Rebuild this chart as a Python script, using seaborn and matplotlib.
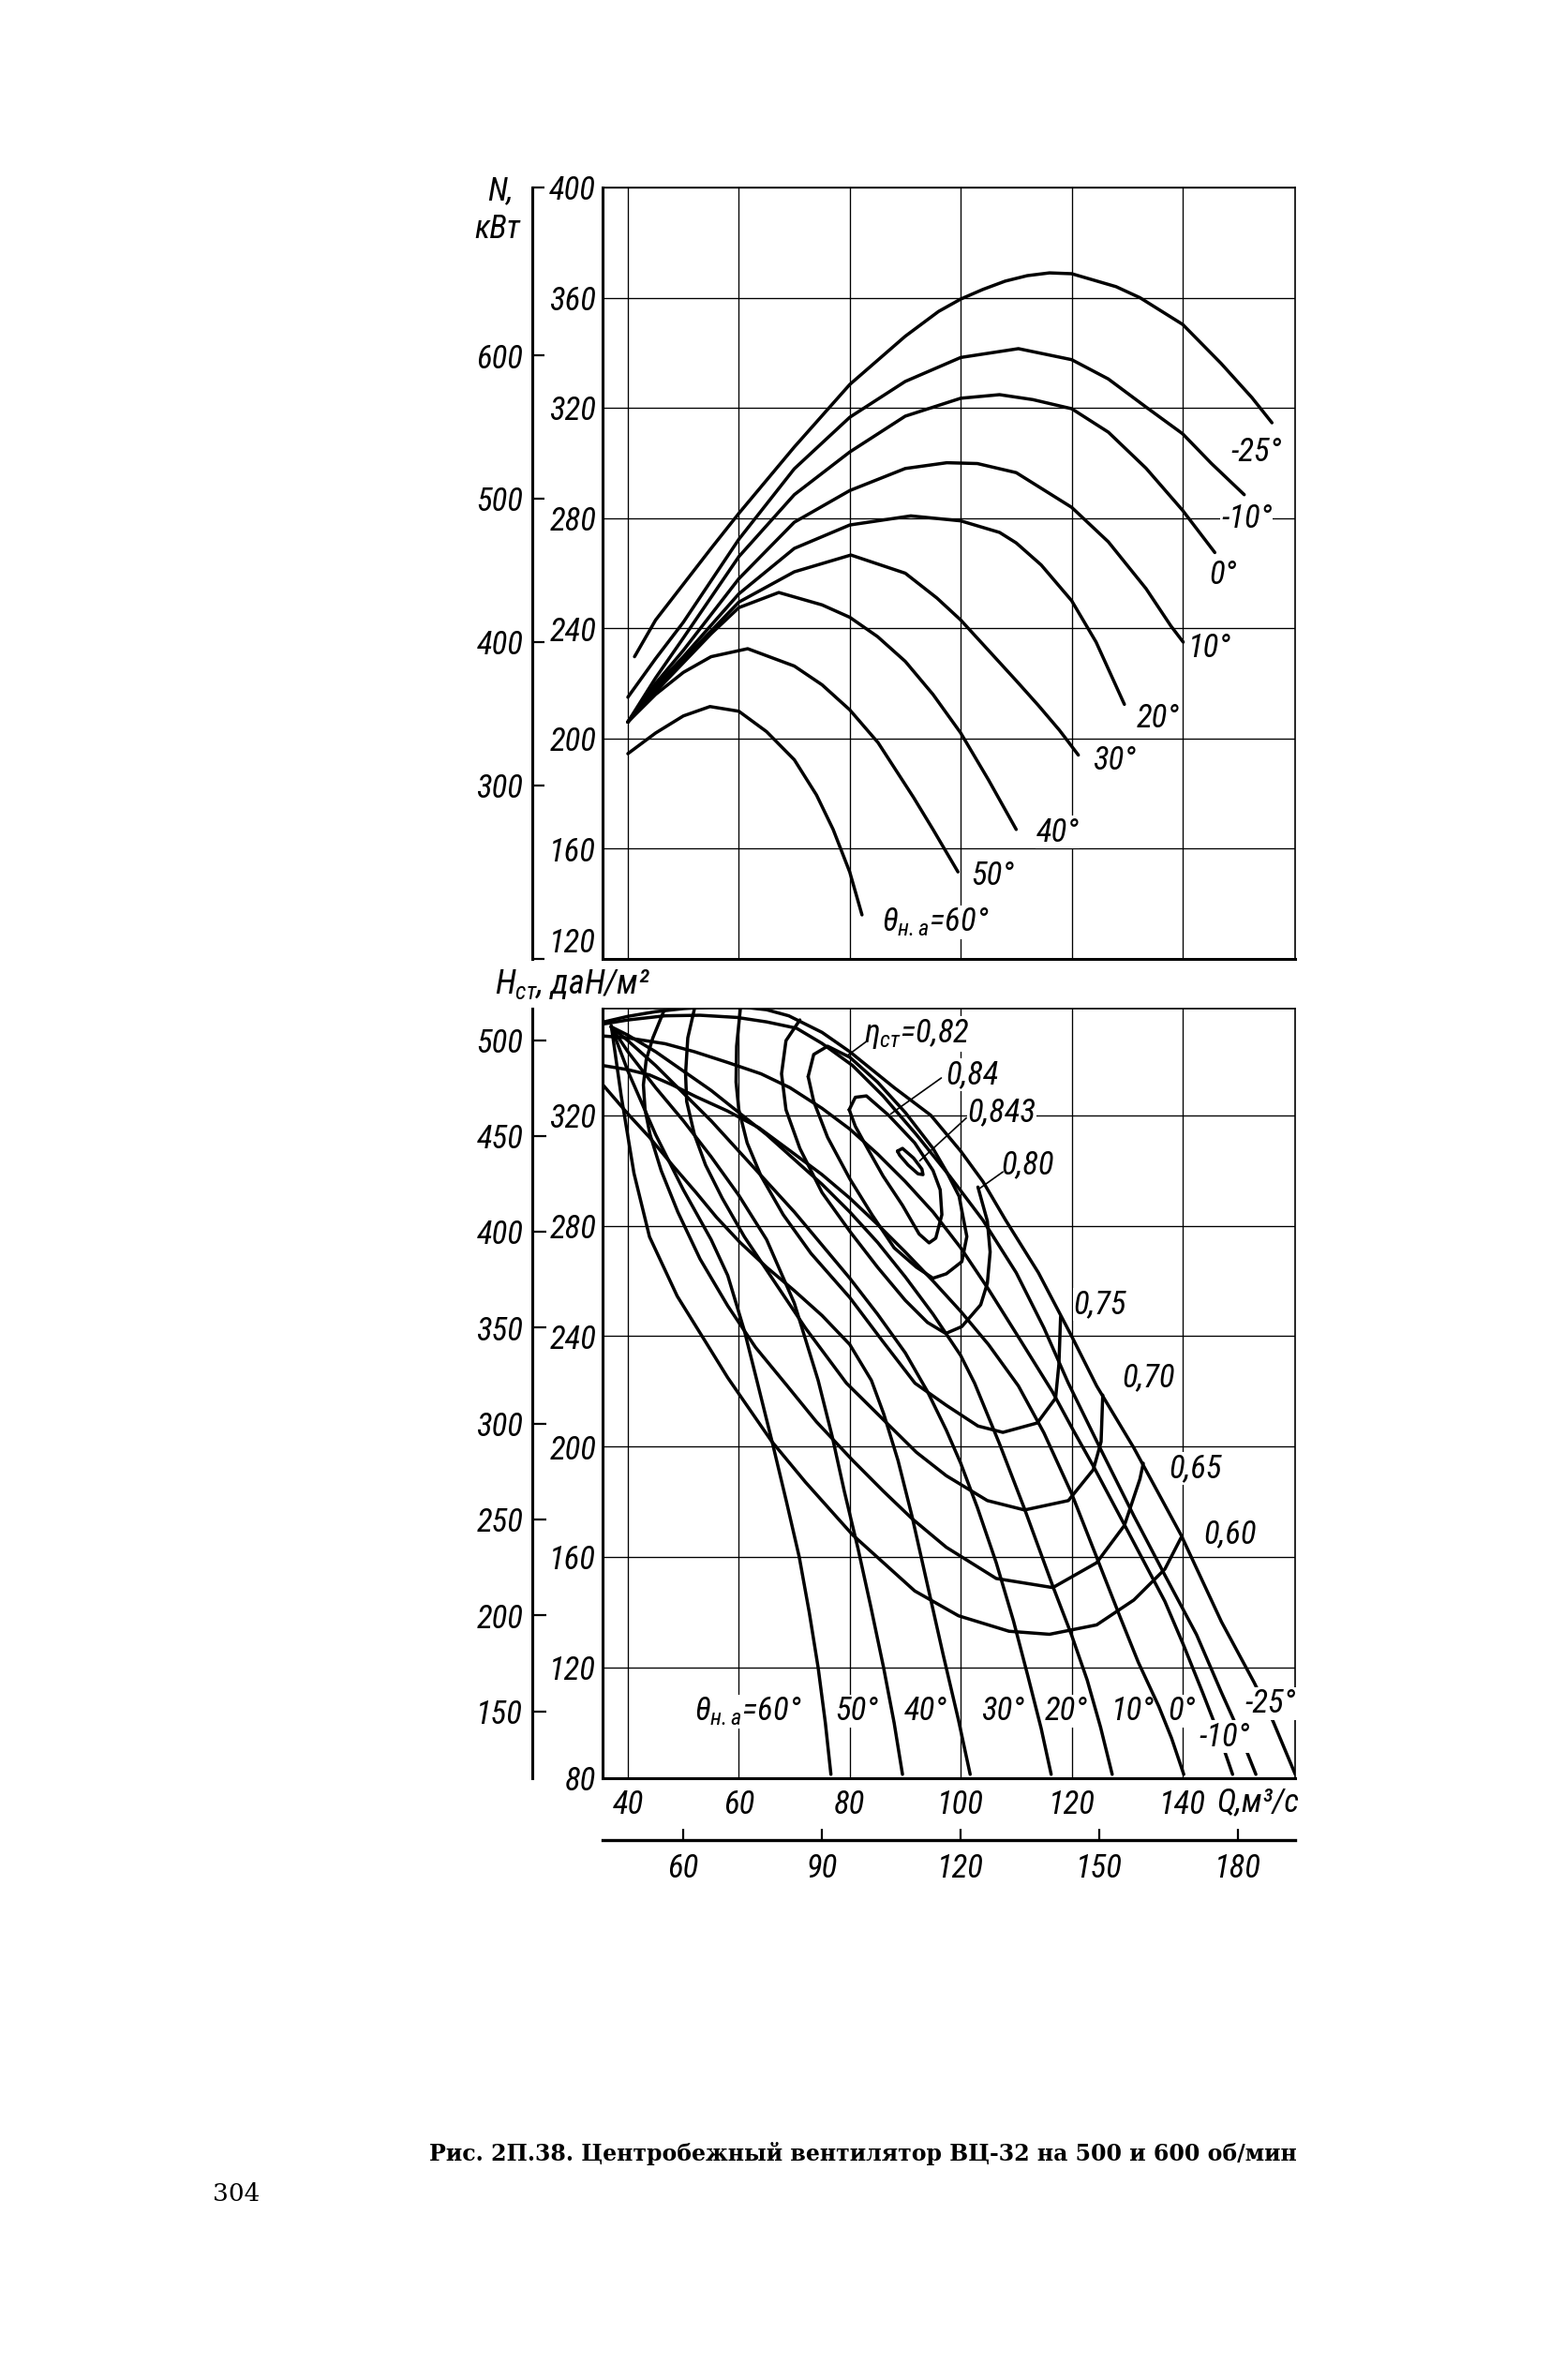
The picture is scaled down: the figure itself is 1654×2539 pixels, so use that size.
import numpy as np
import pandas as pd
import seaborn as sns
import matplotlib
matplotlib.use("Agg")
import matplotlib.pyplot as plt
from matplotlib import font_manager as fm

# ---------------- data: upper panel, power N (kW) vs Q (m3/s), 500 rpm ----------------
TOP_M25_Q = [41.2, 45, 50, 55, 60, 70, 80, 90, 96, 100, 104, 108, 112, 116, 120, 128, 132.3, 140, 146.9, 152.5, 156.1]
TOP_M25_N = [229.7, 243, 256, 269, 281.7, 305.8, 328.5, 346, 355, 359.5, 363, 366, 368, 369, 368.7, 364, 360, 350.3, 336.2, 323.7, 314.6]
TOP_M10_Q = [40, 45, 50, 60, 70, 80, 90, 100, 110.4, 120, 126.6, 133.4, 140, 145.2, 151.1]
TOP_M10_N = [215, 229, 242.2, 272.3, 297.9, 316.6, 329.6, 338.3, 341.5, 337.5, 330.5, 320.3, 310.6, 299.8, 288.5]
TOP_0_Q = [40, 45, 50, 60, 70, 80, 90, 100, 107, 113, 120, 126.6, 133.4, 140, 145.8]
TOP_0_N = [206, 222, 236.5, 266, 288.5, 304, 317, 323.5, 324.8, 323, 319.7, 311.2, 298.1, 282.8, 267.5]
TOP_10_Q = [40, 45, 50, 60, 70, 80, 90, 97.5, 103, 110, 120, 126.6, 133.4, 137.9, 140.1]
TOP_10_N = [206, 220, 232, 258, 278.5, 290, 298, 300.1, 299.8, 296.5, 283.9, 271.4, 254.4, 240.8, 235]
TOP_20_Q = [40, 45, 50, 60, 70, 80, 91, 100, 107, 110, 114.5, 120, 124.4, 129.5]
TOP_20_N = [206, 219, 229.7, 252.5, 269, 277.5, 280.8, 279, 274.8, 271, 263, 250, 235, 212.4]
TOP_30_Q = [40, 45, 50, 60, 70, 80.2, 90, 95.7, 100, 105, 110, 114, 117.8, 121.2]
TOP_30_N = [206, 218, 228.6, 249.5, 260.5, 266.6, 260, 251, 243, 232, 221, 212, 203, 194]
TOP_40_Q = [40, 45, 50, 55, 60, 67.2, 75, 80, 85, 90, 95, 100, 105, 110]
TOP_40_N = [206, 217, 227.5, 238, 247.5, 253, 248.5, 244, 237, 228, 216, 202, 185, 167]
TOP_50_Q = [40, 45, 50, 55, 61.6, 70, 75, 80, 85.1, 91.5, 95, 99.5]
TOP_50_N = [206, 216, 224, 229.7, 232.6, 226.3, 219.5, 210.4, 198.5, 178.6, 167, 151.6]
TOP_60_Q = [40, 45, 50, 54.8, 60, 65, 70, 74, 77, 80, 82.2]
TOP_60_N = [194.5, 202, 208.2, 211.6, 209.9, 202.5, 192.3, 179.5, 167, 151.5, 136]

TOP_LABELS = ["-25°", "-10°", "0°", "10°", "20°", "30°", "40°", "50°", r"$\theta_{н.а}$=60°"]
TOP_LABEL_Q = [153.2, 151.5, 147.3, 144.9, 135.6, 127.7, 117.5, 105.8, 95.5]
TOP_LABEL_N = [303.9, 279.7, 259.3, 232.7, 207.3, 192.2, 166.0, 150.1, 133.4]

# ---------------- data: lower panel, static pressure H vs Q ----------------
BOT_M25_Q = [35.5, 40, 45, 50, 55, 60, 65, 69, 75, 80, 88, 94.6, 100, 104, 108.1, 114, 120, 124.5, 131.2, 139.7, 147, 152.9, 156.3, 160.3]
BOT_M25_H = [353.7, 355.8, 357.5, 358.6, 359.2, 359.3, 358.2, 356, 350, 343, 330, 320, 307, 296, 282, 263, 240, 222, 199.6, 168.1, 136.6, 114.6, 100.6, 81.4]
BOT_M10_Q = [35.5, 40, 46.7, 53, 59.7, 65, 70.4, 75, 80.5, 86, 92, 98, 104, 110, 115, 119.4, 125, 131.2, 136.8, 142.5, 147, 149.8, 153.2]
BOT_M10_H = [353, 354.5, 356, 356.2, 355.4, 353.8, 351.5, 346, 338, 327, 313, 298, 282, 263, 243, 223, 200, 175, 153.5, 132, 111, 98.5, 81.4]
BOT_0_Q = [35.5, 40, 46.7, 52, 58, 64, 69.2, 75, 80, 85, 90, 95, 100, 105, 110, 116.5, 120, 123.9, 130.1, 136.8, 140.2, 143.6, 146.5, 149]
BOT_0_H = [348.7, 348, 345.9, 343, 339.1, 335, 330, 322.5, 315, 306, 296, 285, 272, 257, 241, 220, 207, 193, 169.5, 144, 128, 111, 96, 81.4]
BOT_10_Q = [35.5, 40, 43.9, 48, 52.3, 58, 63.6, 70, 75, 80, 85, 90, 95, 100, 105, 110.4, 115, 120, 124.5, 128.7, 132, 135.7, 138, 140.2]
BOT_10_H = [338, 336.5, 334.6, 331, 326.7, 321.5, 315.5, 306, 298.5, 290, 280.5, 270.5, 260, 249, 237, 222, 205, 183, 160, 138.5, 122, 106, 94.5, 81.4]
BOT_20_Q = [37, 40, 45, 50, 55, 60, 65, 70, 75, 80, 85, 90, 95, 100, 102.5, 107, 111.5, 116.6, 119.95, 122.8, 125.2, 127.3]
BOT_20_H = [352, 349, 343, 336, 329, 321, 313, 304, 295, 285, 274, 261.5, 248, 233, 223, 201, 177.5, 149.5, 132, 115.5, 98.5, 81.4]
BOT_30_Q = [37, 40, 45, 50, 55, 60, 65, 70, 75, 80, 85, 90, 94, 97.4, 100, 103, 106.4, 109.5, 112.1, 114.5, 116.3]
BOT_30_H = [352, 347, 338, 328, 318, 307, 296, 285, 273, 261, 248, 234, 220, 206, 194, 178, 158, 137, 117, 98, 81.4]
BOT_40_Q = [35.5, 40, 43.9, 48, 52.3, 56, 60.2, 65, 70, 75, 80, 83.9, 86.1, 88.7, 91.2, 94, 96.8, 99.6, 101.7]
BOT_40_H = [331, 320.5, 312, 302, 292, 283, 274, 265, 256.5, 247.5, 237, 224, 212, 195, 175, 150, 125, 101, 81.4]
BOT_50_Q = [37, 40, 45, 50, 55, 60, 65, 70, 74.3, 76.8, 79, 81.5, 83.8, 86.1, 88, 89.5]
BOT_50_H = [352, 343, 330, 318, 305, 291, 275, 252, 224, 204, 184, 163, 142, 120, 100, 81.4]
BOT_60_Q = [37, 40, 45, 50, 55, 58, 61, 63, 66.1, 68.6, 70.9, 72.7, 74.3, 75.6, 76.6]
BOT_60_H = [352, 336, 313, 293, 275, 262, 242, 226, 201, 180, 160, 140, 120, 100, 81.4]

ETA60_Q = [37, 38.8, 41.1, 43.9, 48.9, 54, 58, 65.9, 72, 80.5, 91.7, 99.6, 108.7, 116, 124.5, 131.2, 136.8, 139.7]
ETA60_H = [352.5, 327, 299, 276, 254.5, 238, 225, 202, 187.2, 168.1, 147.8, 138.8, 133.2, 132.1, 135.5, 144.5, 155.7, 167]
ETA65_Q = [46.5, 44.5, 43.3, 42.8, 43.1, 44, 46, 49, 53, 58, 63, 68.7, 74, 80.5, 86, 91.2, 97.4, 106.4, 116.6, 124.5, 129.5, 132.3, 132.9]
ETA65_H = [357.8, 348, 340, 331, 322, 313, 300, 285, 268, 251, 236, 222.1, 209, 195.1, 184, 174, 163.6, 152.3, 149, 158, 171.5, 188.3, 194]
ETA70_Q = [52, 50.8, 50.4, 50.6, 52, 54, 57, 61, 66, 72, 79.4, 86.1, 92, 97.4, 104.8, 111.5, 119.4, 123.9, 125.3, 125.6]
ETA70_H = [358.5, 348, 335, 325, 313, 302, 290, 276, 261, 243, 223, 209.7, 198, 189.5, 180.5, 177.1, 180.5, 191.7, 201.8, 218.7]
ETA75_Q = [60.3, 59.6, 59.5, 60, 61.5, 64, 68, 73, 80, 86, 91.75, 97.4, 103.1, 107.6, 113.8, 117.1, 117.7, 118]
ETA75_H = [359, 345, 332, 322, 310, 298, 284, 270, 254, 238, 223, 215, 207.5, 205.2, 208.6, 217.6, 230, 247]
ETA80_Q = [71, 68.5, 67.7, 68.5, 71, 75, 80, 85, 90, 94, 97.3, 100.2, 103.6, 104.8, 105.3, 104.8, 103.1]
ETA80_H = [354.5, 347, 335, 322, 308, 292, 278, 265, 253, 245, 241, 243.5, 251.4, 259.2, 270.5, 281.7, 294]
ETA82_Q = [72.5, 73.5, 76, 80, 85, 90, 95, 97.4, 99.7, 101.1, 100.2, 97.4, 95, 92, 88, 84, 80, 76, 73.5, 72.5]
ETA82_H = [334, 342, 345, 341, 332, 321, 308, 299.7, 290.7, 276.1, 267, 262.6, 261, 265, 272, 284, 297, 312, 325, 334]
ETA84_Q = [79.9, 81, 83, 87, 91.7, 95, 96.3, 96.6, 95.5, 94.3, 92.5, 89.5, 86, 83.3, 81, 79.9]
ETA84_H = [322, 326.5, 327, 320, 310, 300, 293, 284, 275.5, 273.8, 277, 287.4, 298, 307.6, 316, 322]
ETA843_Q = [88.6, 89.5, 91.5, 93, 93.2, 92.3, 90.5, 89, 88.6]
ETA843_H = [307, 308, 304.5, 300.5, 298.5, 298.8, 302, 305.5, 307]

BOT_LABELS = [r"$\theta_{н.а}$=60°", "50°", "40°", "30°", "20°", "10°", "0°", "-10°", "-25°"]
BOT_LABEL_Q = [61.6, 81.3, 93.6, 107.5, 119.0, 131.1, 139.8, 147.6, 155.8]
BOT_LABEL_H = [104.2, 104.2, 104.2, 104.2, 104.2, 104.2, 104.2, 95.0, 107.1]

ETA_LABELS = [r"$\eta_{ст}$=0,82", "0,84", "0,843", "0,80", "0,75", "0,70", "0,65", "0,60"]
ETA_LABEL_Q = [82.6, 97.3, 101.2, 107.3, 120.3, 129.0, 137.6, 143.7]
ETA_LABEL_H = [349.5, 334.8, 321.0, 302.0, 251.6, 225.0, 192.2, 168.5]

Q_TICKS = [40, 60, 80, 100, 120, 140]
N_TICKS = [120, 160, 200, 240, 280, 320, 360, 400]
N600_TICKS = [300, 400, 500, 600]
H_TICKS = [80, 120, 160, 200, 240, 280, 320]
H600_TICKS = [150, 200, 250, 300, 350, 400, 450, 500]
Q600_TICKS = [60, 90, 120, 150, 180]

# ---------------- build tables ----------------
top_curves = {"-25": (TOP_M25_Q, TOP_M25_N), "-10": (TOP_M10_Q, TOP_M10_N), "0": (TOP_0_Q, TOP_0_N),
              "10": (TOP_10_Q, TOP_10_N), "20": (TOP_20_Q, TOP_20_N), "30": (TOP_30_Q, TOP_30_N),
              "40": (TOP_40_Q, TOP_40_N), "50": (TOP_50_Q, TOP_50_N), "60": (TOP_60_Q, TOP_60_N)}
bot_curves = {"-25": (BOT_M25_Q, BOT_M25_H), "-10": (BOT_M10_Q, BOT_M10_H), "0": (BOT_0_Q, BOT_0_H),
              "10": (BOT_10_Q, BOT_10_H), "20": (BOT_20_Q, BOT_20_H), "30": (BOT_30_Q, BOT_30_H),
              "40": (BOT_40_Q, BOT_40_H), "50": (BOT_50_Q, BOT_50_H), "60": (BOT_60_Q, BOT_60_H),
              "e60": (ETA60_Q, ETA60_H), "e65": (ETA65_Q, ETA65_H), "e70": (ETA70_Q, ETA70_H),
              "e75": (ETA75_Q, ETA75_H), "e80": (ETA80_Q, ETA80_H), "e82": (ETA82_Q, ETA82_H),
              "e84": (ETA84_Q, ETA84_H), "e843": (ETA843_Q, ETA843_H)}


def to_frame(curves, yname):
    rows = []
    for name, (qs, ys) in curves.items():
        for i, (q, y) in enumerate(zip(qs, ys)):
            rows.append({"curve": name, "order": i, "Q": q, yname: y})
    return pd.DataFrame(rows)


df_top = to_frame(top_curves, "N")
df_bot = to_frame(bot_curves, "H")

# ---------------- style ----------------
sns.set_theme(style="white")
ttf = fm.fontManager.ttflist
names = {f.name for f in ttf}
STRETCH = "normal"
if "Liberation Sans Narrow" in names:
    SANS, FS = "Liberation Sans Narrow", 25
elif "Roboto Condensed" in names:
    SANS, FS = "Roboto Condensed", 25
elif any(f.name == "DejaVu Sans" and f.stretch == "condensed" for f in ttf):
    SANS, STRETCH, FS = "DejaVu Sans", "condensed", 23
elif "Liberation Sans" in names:
    SANS, FS = "Liberation Sans", 23
else:
    SANS, FS = "DejaVu Sans", 21

plt.rcParams["font.family"] = [SANS, "DejaVu Sans"]
plt.rcParams["font.style"] = "italic"
plt.rcParams["font.stretch"] = STRETCH
plt.rcParams["mathtext.fontset"] = "custom"
plt.rcParams["mathtext.rm"] = SANS
plt.rcParams["mathtext.it"] = SANS + ":italic"
plt.rcParams["mathtext.sf"] = SANS
plt.rcParams["axes.edgecolor"] = "black"
plt.rcParams["text.color"] = "black"
plt.rcParams["xtick.color"] = "black"
plt.rcParams["ytick.color"] = "black"

W, H = 1654, 2539
fig = plt.figure(figsize=(W / 100, H / 100), dpi=100)
fig.patch.set_facecolor("white")


def fx(x):
    return x / W


def fy(y):
    return 1 - y / H


XL = (35.44, 160.2)
ax_w = (XL[1] - XL[0]) * 5.92 / W
ax1 = fig.add_axes([fx(643), fy(1023), ax_w, (1023 - 200) / H])
ax2 = fig.add_axes([fx(643), fy(1897), ax_w, (1897 - 1076) / H])
ax_px = ax_w * W
LW = 2.5


def style_axes(ax, yticks):
    ax.set_xlim(*XL)
    ax.set_xticks(Q_TICKS)
    ax.set_yticks(yticks)
    ax.grid(True, color="black", linewidth=0.95)
    ax.set_axisbelow(True)
    for s in ["top", "right"]:
        ax.spines[s].set_linewidth(1.2)
    for s in ["left", "bottom"]:
        ax.spines[s].set_linewidth(2.2)
    for s in ax.spines.values():
        s.set_color("black")
    ax.tick_params(axis="y", length=0, pad=5, labelsize=FS)
    ax.set_xlabel("")
    ax.set_ylabel("")


# ---------------- upper panel ----------------
sns.lineplot(data=df_top, x="Q", y="N", units="curve", estimator=None, sort=False,
             color="black", linewidth=LW, ax=ax1, legend=False)
style_axes(ax1, N_TICKS)
ax1.set_ylim(120, 400)
ax1.tick_params(axis="x", length=0, labelbottom=False)
ax1.get_yticklabels()[0].set_verticalalignment("bottom")

for lab, q, n in zip(TOP_LABELS, TOP_LABEL_Q, TOP_LABEL_N):
    ax1.text(q, n, lab, ha="center", va="center", fontsize=FS, zorder=1.5,
             bbox=dict(facecolor="white", edgecolor="none", pad=0.5))

fwd_n = lambda n: 1.923 * n - 51.9
inv_n = lambda m: (m + 51.9) / 1.923
sec1 = ax1.secondary_yaxis(-75 / ax_px, functions=(fwd_n, inv_n))
sec1.set_yticks(N600_TICKS)
sec1.set_yticks([fwd_n(400), fwd_n(120)], minor=True)
sec1.tick_params(which="both", direction="in", length=9.5, width=1.6, pad=7, labelsize=FS)
sec1.spines["left"].set_linewidth(2.2)
sec1.spines["left"].set_color("black")

fig.text(fx(534), fy(203), "N,", ha="center", va="center", fontsize=FS)
fig.text(fx(531), fy(244), "кВт", ha="center", va="center", fontsize=FS)

# ---------------- lower panel ----------------
sns.lineplot(data=df_bot, x="Q", y="H", units="curve", estimator=None, sort=False,
             color="black", linewidth=LW, ax=ax2, legend=False)
style_axes(ax2, H_TICKS)
ax2.set_ylim(80, 358.6)
ax2.tick_params(axis="x", length=0, pad=8, labelsize=FS)

for lab, q, h in zip(BOT_LABELS, BOT_LABEL_Q, BOT_LABEL_H):
    z = 3 if lab.startswith("-") else 1.5
    ax2.text(q, h, lab, ha="center", va="center", fontsize=FS, zorder=z,
             bbox=dict(facecolor="white", edgecolor="none", pad=0.5))

for lab, q, h in zip(ETA_LABELS, ETA_LABEL_Q, ETA_LABEL_H):
    ax2.text(q, h, lab, ha="left", va="center", fontsize=FS, zorder=1.5,
             bbox=dict(facecolor="white", edgecolor="none", pad=0.5))

LEADERS = [((83.2, 347.0), (79.5, 341.5)), ((96.5, 333.5), (87.4, 320.5)),
           ((101.0, 319.0), (92.6, 303.5)), ((107.6, 299.5), (103.4, 293.5))]
for (x1, y1), (x2, y2) in LEADERS:
    ax2.plot([x1, x2], [y1, y2], color="black", linewidth=1.2, zorder=2)

fwd_h = lambda h: 1.44 * h
inv_h = lambda h: h / 1.44
sec2 = ax2.secondary_yaxis(-75 / ax_px, functions=(fwd_h, inv_h))
sec2.set_yticks(H600_TICKS)
sec2.tick_params(direction="in", length=11, width=1.6, pad=7, labelsize=FS)
sec2.spines["left"].set_linewidth(2.2)
sec2.spines["left"].set_color("black")

fwd_q = lambda q: 1.2 * q
inv_q = lambda q: q / 1.2
sec3 = ax2.secondary_xaxis(-66 / 821, functions=(fwd_q, inv_q))
sec3.set_xticks(Q600_TICKS)
sec3.tick_params(direction="in", length=9, width=1.6, pad=10, labelsize=FS)
sec3.spines["bottom"].set_linewidth(2.4)
sec3.spines["bottom"].set_color("black")

fig.text(fx(1298), fy(1922), "Q,м³/с", ha="left", va="center", fontsize=FS)
fig.text(fx(528), fy(1050), r"$H_{ст}$, даН/м²", ha="left", va="center", fontsize=FS + 1)

# ---------------- caption ----------------
fig.text(fx(458), fy(2297), "Рис. 2П.38. Центробежный вентилятор ВЦ-32 на 500 и 600 об/мин",
         ha="left", va="center", fontsize=17, family="DejaVu Serif", weight="bold", style="normal",
         stretch="normal")
fig.text(fx(227), fy(2341), "304", ha="left", va="center", fontsize=19,
         family="DejaVu Serif", style="normal", stretch="normal")

fig.savefig("out.png", dpi=100, facecolor="white")
